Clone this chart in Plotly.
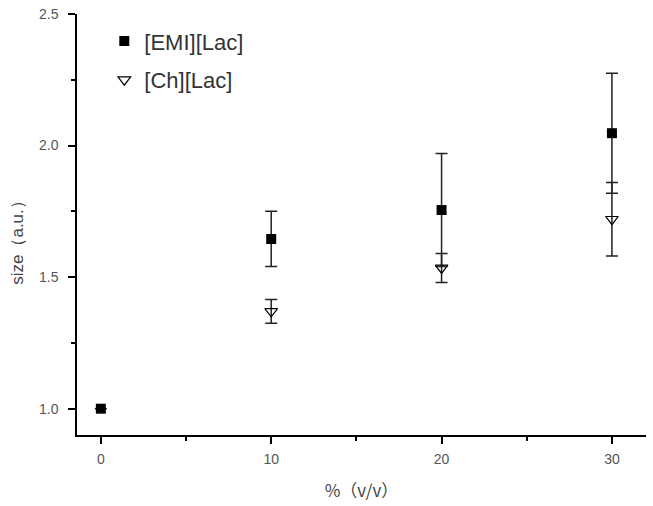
import plotly.graph_objects as go

# data
emi_x = [0, 10, 20, 30]
emi_y = [1.0, 1.645, 1.755, 2.047]
emi_err = [0, 0.105, 0.215, 0.228]

ch_x = [10, 20, 30]
ch_y = [1.37, 1.535, 1.72]
ch_err = [0.045, 0.055, 0.14]

fig = go.Figure()

fig.add_trace(go.Scatter(
    x=emi_x, y=emi_y, mode='markers', name='[EMI][Lac]',
    legendgroup='a',
    marker=dict(symbol='square', size=10, color='black'),
    error_y=dict(type='data', array=emi_err, color='#222', thickness=1.5, width=6),
))
fig.add_trace(go.Scatter(
    x=ch_x, y=ch_y, mode='markers', name='[Ch][Lac]',
    legendgroup='b',
    marker=dict(symbol='triangle-down-open', size=11, color='black', line=dict(width=1.2)),
    error_y=dict(type='data', array=ch_err, color='#222', thickness=1.5, width=6),
))

axis_common = dict(
    showgrid=False, zeroline=False, showline=True, linecolor='black', linewidth=1.5,
    ticks='outside', ticklen=7, tickwidth=1.5, tickcolor='black', automargin=False,
    tickfont=dict(family='Liberation Sans, Arial', size=14, color='#555'),
    minor=dict(ticks='outside', ticklen=4, tickwidth=1.5, tickcolor='black'),
)

fig.update_xaxes(
    range=[-1.4, 32], tickvals=[0, 10, 20, 30], minor_tickvals=[5, 15, 25],
    ticklabelstandoff=3,
    title=dict(text='%（v/v）', font=dict(family='Noto Sans CJK SC', size=17, color='#444'), standoff=20),
    **axis_common
)
fig.update_yaxes(
    range=[0.9, 2.5], tickvals=[1.0, 1.5, 2.0, 2.5], ticktext=['1.0', '1.5', '2.0', '2.5'],
    minor_tickvals=[1.25, 1.75, 2.25], ticklabelstandoff=7,
    **axis_common
)

# y title sits a little below the middle of the axis in the reference
fig.add_annotation(
    text='size（a.u.）', textangle=-90, showarrow=False,
    xref='paper', yref='paper', x=-0.104, y=0.468, xanchor='center', yanchor='middle',
    font=dict(family='Liberation Sans, Arial', size=17, color='#444'),
)

fig.update_layout(
    width=653, height=506,
    margin=dict(l=77, r=7, t=14, b=71),
    plot_bgcolor='white', paper_bgcolor='white',
    showlegend=True,
    legend=dict(x=0.048, y=0.985, xanchor='left', yanchor='top',
                font=dict(family='Liberation Sans, Arial', size=22, color='#333'),
                tracegroupgap=7, bgcolor='rgba(0,0,0,0)'),
)

# drop the default body margin so the figure sits at the window corner
fig.write_html("out.html", config={'displayModeBar': False},
               post_script="document.body.style.margin='0';")
